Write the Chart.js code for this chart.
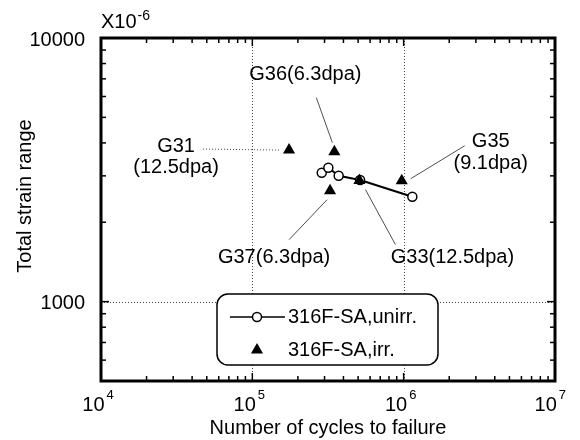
<!DOCTYPE html>
<html><head><meta charset="utf-8">
<script src="https://cdn.jsdelivr.net/npm/chart.js@4/dist/chart.umd.min.js"></script>
<style>html,body{margin:0;padding:0;background:#fff}#wrap{width:580px;height:440px}</style>
</head><body><div id="wrap"><canvas id="c" width="580" height="440"></canvas></div>
<script>
// ---- data ----
const unirrCycles = [287500, 318000, 372000, 515000, 1141000];
const unirrStrain = [3083, 3221, 3003, 2892, 2500];
const irrCycles = [174800, 348300, 326300, 510000, 971000];
const irrStrain = [3758, 3705, 2635, 2880, 2875];
const irrSpecimens = ['G31\n(12.5dpa)', 'G36(6.3dpa)', 'G37(6.3dpa)', 'G33(12.5dpa)', 'G35\n(9.1dpa)'];
const seriesNames = ['316F-SA,unirr.', '316F-SA,irr.'];
const xMajorTicks = [1e4, 1e5, 1e6, 1e7];
const yMajorTicks = [1000, 10000];
const xTitle = 'Number of cycles to failure';
const yTitle = 'Total strain range';
const yUnit = 'X10';
const yUnitExp = '-6';

// ---- annotation layout (pixel offsets from the marked point) ----
const noteLayout = [
  {label: [-113, -4], gap: 21, lead: [[-86, -1], [-10, 0]], dotted: true},
  {label: [-29, -77], lead: [[-18, -54], [-2, -9]]},
  {label: [-56, 67], lead: [[-41, 49], [-3, 9]]},
  {label: [93, 77], lead: [[36, 64], [6, 9]]},
  {label: [89, -39], gap: 22, lead: [[63, -35], [9, -2]]}
];

const FONT = '"Liberation Sans", Arial, Helvetica, sans-serif';

const overlay = {
  id: 'overlay',
  beforeDatasetsDraw(chart) {
    const ctx = chart.ctx, a = chart.chartArea, xs = chart.scales.x, ys = chart.scales.y;
    ctx.save();
    // dotted decade grid lines
    ctx.strokeStyle = '#444'; ctx.lineWidth = 1; ctx.setLineDash([1, 2]);
    xMajorTicks.forEach(v => {
      const px = Math.round(xs.getPixelForValue(v)) + 0.5;
      if (px > a.left + 2 && px < a.right - 2) { ctx.beginPath(); ctx.moveTo(px, a.top); ctx.lineTo(px, a.bottom); ctx.stroke(); }
    });
    yMajorTicks.forEach(v => {
      const py = Math.round(ys.getPixelForValue(v)) + 0.5;
      if (py > a.top + 2 && py < a.bottom - 2) { ctx.beginPath(); ctx.moveTo(a.left, py); ctx.lineTo(a.right, py); ctx.stroke(); }
    });
    // leader lines
    const meta = chart.getDatasetMeta(0);
    noteLayout.forEach((n, i) => {
      const p = meta.data[i];
      ctx.setLineDash(n.dotted ? [1, 2] : []);
      ctx.strokeStyle = n.dotted ? '#444' : '#222';
      ctx.lineWidth = n.dotted ? 1 : 0.8;
      ctx.beginPath();
      ctx.moveTo(p.x + n.lead[0][0], p.y + n.lead[0][1]);
      ctx.lineTo(p.x + n.lead[1][0], p.y + n.lead[1][1]);
      ctx.stroke();
    });
    ctx.restore();
  },
  afterDatasetsDraw(chart) {
    const ctx = chart.ctx, a = chart.chartArea, xs = chart.scales.x, ys = chart.scales.y;
    ctx.save();
    ctx.setLineDash([]);
    ctx.strokeStyle = '#000'; ctx.fillStyle = '#000';
    // frame
    ctx.lineWidth = 3;
    ctx.strokeRect(a.left, a.top, a.right - a.left, a.bottom - a.top);
    // inward ticks
    ctx.lineWidth = 1.5;
    for (let d = 4; d < 7; d++) {
      for (let k = 1; k <= 9; k++) {
        const v = k * Math.pow(10, d);
        const px = xs.getPixelForValue(v);
        const len = k === 1 ? 8 : 5;
        if (k === 1 && d === 4) continue;
        ctx.beginPath(); ctx.moveTo(px, a.bottom); ctx.lineTo(px, a.bottom - len); ctx.stroke();
        ctx.beginPath(); ctx.moveTo(px, a.top); ctx.lineTo(px, a.top + len); ctx.stroke();
      }
    }
    for (let d = 2; d < 4; d++) {
      for (let k = 1; k <= 9; k++) {
        const v = k * Math.pow(10, d);
        if (v <= ys.min || v >= ys.max) continue;
        const py = ys.getPixelForValue(v);
        const len = k === 1 ? 8 : 5;
        ctx.beginPath(); ctx.moveTo(a.left, py); ctx.lineTo(a.left + len, py); ctx.stroke();
        ctx.beginPath(); ctx.moveTo(a.right, py); ctx.lineTo(a.right - len, py); ctx.stroke();
      }
    }
    // y tick labels
    ctx.font = '20px ' + FONT;
    ctx.textAlign = 'right'; ctx.textBaseline = 'middle';
    yMajorTicks.forEach(v => ctx.fillText(String(v), a.left - 16, ys.getPixelForValue(v) + 2));
    // x tick labels 10^n
    xMajorTicks.forEach(v => {
      const e = String(Math.round(Math.log10(v)));
      ctx.font = '20px ' + FONT;
      const w1 = ctx.measureText('10').width;
      ctx.font = '13px ' + FONT;
      const w2 = ctx.measureText(e).width;
      let cx = xs.getPixelForValue(v) - 3;
      const tot = w1 + 2 + w2;
      let left = cx - tot / 2;
      if (left + tot > 566) left = 566 - tot;
      ctx.textAlign = 'left'; ctx.textBaseline = 'alphabetic';
      ctx.font = '20px ' + FONT;
      ctx.fillText('10', left, a.bottom + 30);
      ctx.font = '13px ' + FONT;
      ctx.fillText(e, left + w1 + 2, a.bottom + 18);
    });
    // axis titles
    ctx.font = '20px ' + FONT;
    ctx.textAlign = 'center'; ctx.textBaseline = 'alphabetic';
    ctx.fillText(xTitle, (a.left + a.right) / 2, 434);
    ctx.save();
    ctx.translate(31, 196); ctx.rotate(-Math.PI / 2);
    ctx.fillText(yTitle, 0, 0);
    ctx.restore();
    // unit
    ctx.textAlign = 'left';
    ctx.font = '20px ' + FONT;
    ctx.fillText(yUnit, a.left, 28);
    const uw = ctx.measureText(yUnit).width;
    ctx.font = '14px ' + FONT;
    ctx.fillText(yUnitExp, a.left + uw + 1, 20);
    // annotation labels
    const meta = chart.getDatasetMeta(0);
    ctx.font = '20px ' + FONT;
    ctx.textAlign = 'center'; ctx.textBaseline = 'middle';
    noteLayout.forEach((n, i) => {
      const p = meta.data[i];
      irrSpecimens[i].split('\n').forEach((t, j) => {
        ctx.fillText(t, p.x + n.label[0], p.y + n.label[1] + j * (n.gap || 0));
      });
    });
    // legend box
    const L = {x: 217, y: 294, w: 221, h: 71, r: 11};
    ctx.fillStyle = '#fff';
    ctx.beginPath(); ctx.roundRect(L.x, L.y, L.w, L.h, L.r); ctx.fill();
    ctx.lineWidth = 1.5; ctx.strokeStyle = '#000';
    ctx.stroke();
    const ds0 = chart.data.datasets[1], ds1 = chart.data.datasets[0];
    // unirr sample
    ctx.lineWidth = 1.5;
    ctx.beginPath(); ctx.moveTo(230, 317); ctx.lineTo(285, 317); ctx.stroke();
    ctx.fillStyle = '#fff'; ctx.beginPath(); ctx.arc(257, 317, ds0.pointRadius, 0, Math.PI * 2); ctx.fill();
    ctx.lineWidth = ds0.pointBorderWidth; ctx.stroke();
    ctx.fillStyle = '#000';
    Chart.helpers.drawPoint(ctx, {pointStyle: 'triangle', radius: ds1.pointRadius, borderWidth: 0}, 257, 350);
    ctx.font = '20px ' + FONT;
    ctx.textAlign = 'left'; ctx.textBaseline = 'middle';
    ctx.fillText(seriesNames[0], 288, 317);
    ctx.fillText(seriesNames[1], 288, 350);
    ctx.restore();
  }
};

new Chart(document.getElementById('c'), {
  type: 'scatter',
  data: {
    datasets: [
      {
        label: seriesNames[1],
        data: irrCycles.map((x, i) => ({x, y: irrStrain[i]})),
        pointStyle: 'triangle', pointRadius: 7, pointHoverRadius: 7,
        backgroundColor: '#000', borderColor: '#000', pointBorderWidth: 0,
        showLine: false
      },
      {
        label: seriesNames[0],
        data: unirrCycles.map((x, i) => ({x, y: unirrStrain[i]})),
        showLine: true, borderColor: '#000', borderWidth: 2,
        pointStyle: 'circle', pointRadius: 4.5, pointHoverRadius: 4.5,
        pointBackgroundColor: '#fff', pointBorderColor: '#000', pointBorderWidth: 1.5
      }
    ]
  },
  options: {
    responsive: false, animation: false, devicePixelRatio: 1,
    layout: {padding: {left: 101, top: 38, right: 25, bottom: 59}},
    plugins: {legend: {display: false}, tooltip: {enabled: false}},
    scales: {
      x: {type: 'logarithmic', min: 1e4, max: 1e7, display: false},
      y: {type: 'logarithmic', min: 500, max: 10000, display: false}
    }
  },
  plugins: [overlay]
});
</script></body></html>
